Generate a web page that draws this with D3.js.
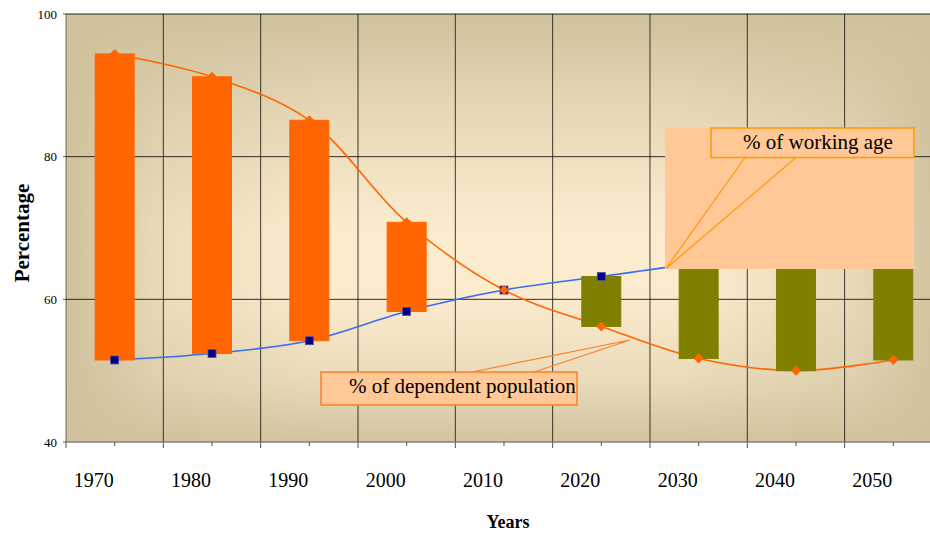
<!DOCTYPE html>
<html>
<head>
<meta charset="utf-8">
<script src="https://cdn.jsdelivr.net/npm/d3@7"></script>
<style>
  body { margin: 0; background: #fff; }
  svg { display: block; font-family: "Liberation Serif", "Times New Roman", serif; }
</style>
</head>
<body>
<div id="chart"></div>
<script>
// Data
const years = ["1970", "1980", "1990", "2000", "2010", "2020", "2030", "2040", "2050"];
const workingAge = [51.5, 52.4, 54.2, 58.3, 61.3, 63.2, 65.0, 66.0, 66.5];
const dependent = [94.4, 91.2, 85.1, 70.8, 61.3, 56.2, 51.7, 50.0, 51.5];
const yTicks = [40, 60, 80, 100];

const width = 930, height = 533;
const margin = { left: 66, top: 14, bottom: 91 };
const band = 97.33;

const svg = d3.select("#chart").append("svg")
    .attr("width", width)
    .attr("height", height);

const x = d3.scaleBand()
    .domain(years)
    .range([margin.left, margin.left + band * years.length])
    .padding(0);
const y = d3.scaleLinear()
    .domain([40, 100])
    .range([height - margin.bottom, margin.top]);

const x0 = x.range()[0], x1 = x.range()[1];
const yTop = y(100), yBot = y(40);
const cx = d => x(d) + x.bandwidth() / 2;

// Background gradients (rectangular "from center" look)
const defs = svg.append("defs");
const tan = "#d0c29d";
const vg = defs.append("linearGradient").attr("id", "vg").attr("x1", 0).attr("y1", 0).attr("x2", 0).attr("y2", 1);
[[0, 1], [0.25, 0.45], [0.5, 0], [0.65, 0], [0.85, 0.4], [1, 0.95]].forEach(([o, a]) =>
    vg.append("stop").attr("offset", o).attr("stop-color", tan).attr("stop-opacity", a));
const hg = defs.append("linearGradient").attr("id", "hg").attr("x1", 0).attr("y1", 0).attr("x2", 1).attr("y2", 0);
[[0, 1], [0.12, 0.35], [0.3, 0], [0.7, 0], [0.9, 0.45], [1, 1]].forEach(([o, a]) =>
    hg.append("stop").attr("offset", o).attr("stop-color", tan).attr("stop-opacity", a));

const plot = svg.append("g");
plot.append("rect")
    .attr("x", x0).attr("y", yTop)
    .attr("width", x1 - x0).attr("height", yBot - yTop)
    .attr("fill", "#fcecce");
plot.append("rect")
    .attr("x", x0).attr("y", yTop)
    .attr("width", x1 - x0).attr("height", yBot - yTop)
    .attr("fill", "url(#hg)");
plot.append("rect")
    .attr("x", x0).attr("y", yTop)
    .attr("width", x1 - x0).attr("height", yBot - yTop)
    .attr("fill", "url(#vg)");

// Horizontal gridlines
plot.append("g")
    .selectAll("line")
    .data(yTicks.filter(t => t > 40))
    .join("line")
    .attr("x1", x0).attr("x2", x1)
    .attr("y1", d => y(d)).attr("y2", d => y(d))
    .attr("stroke", "#000")
    .attr("stroke-opacity", d => d === 100 ? 0.85 : 0.8)
    .attr("stroke-width", 1);

// Vertical gridlines at category boundaries
plot.append("g")
    .selectAll("line")
    .data(years)
    .join("line")
    .attr("x1", d => x(d)).attr("x2", d => x(d))
    .attr("y1", yTop).attr("y2", yBot)
    .attr("stroke", "#000")
    .attr("stroke-opacity", (d, i) => i === 0 ? 0.55 : 0.75)
    .attr("stroke-width", 1);

// Axis line and ticks
svg.append("line")
    .attr("x1", x0).attr("x2", x1)
    .attr("y1", yBot).attr("y2", yBot)
    .attr("stroke", "#808080").attr("stroke-width", 1.5);
svg.append("g")
    .selectAll("line")
    .data(years.concat(["end"]))
    .join("line")
    .attr("x1", d => d === "end" ? x1 : x(d))
    .attr("x2", d => d === "end" ? x1 : x(d))
    .attr("y1", yBot).attr("y2", yBot + 6)
    .attr("stroke", "#555");
svg.append("g")
    .selectAll("line")
    .data(years)
    .join("line")
    .attr("x1", cx).attr("x2", cx)
    .attr("y1", yBot).attr("y2", yBot + 4)
    .attr("stroke", "#555");
svg.append("g")
    .selectAll("line")
    .data(yTicks)
    .join("line")
    .attr("x1", x0 - 3).attr("x2", x0)
    .attr("y1", d => y(d)).attr("y2", d => y(d))
    .attr("stroke", "#555");

// Tick labels
svg.append("g")
    .selectAll("text")
    .data(yTicks)
    .join("text")
    .attr("x", 57)
    .attr("y", d => y(d))
    .attr("dy", "0.35em")
    .attr("text-anchor", "end")
    .style("font-size", "13px")
    .text(d => d);
svg.append("g")
    .selectAll("text")
    .data(years)
    .join("text")
    .attr("x", d => cx(d) - 21)
    .attr("y", 487)
    .attr("text-anchor", "middle")
    .style("font-size", "20px")
    .text(d => d);

// Axis titles
svg.append("text")
    .attr("transform", "translate(29,233) rotate(-90)")
    .attr("text-anchor", "middle")
    .style("font-size", "21px")
    .style("font-weight", "bold")
    .text("Percentage");
svg.append("text")
    .attr("x", 508).attr("y", 528)
    .attr("text-anchor", "middle")
    .style("font-size", "18px")
    .style("font-weight", "bold")
    .text("Years");

// Lines
const rows = years.map((yr, i) => ({ yr, w: workingAge[i], d: dependent[i] }));
const curve = d3.curveCatmullRom.alpha(0.5);
svg.append("path")
    .datum(rows)
    .attr("fill", "none")
    .attr("stroke", "#3a6cf4")
    .attr("stroke-width", 1.6)
    .attr("d", d3.line().x(d => cx(d.yr)).y(d => y(d.w)).curve(curve));
svg.append("path")
    .datum(rows)
    .attr("fill", "none")
    .attr("stroke", "#ff6600")
    .attr("stroke-width", 1.6)
    .attr("d", d3.line().x(d => cx(d.yr)).y(d => y(d.d)).curve(curve));

// Up/down bars
const barW = 39;
svg.append("g")
    .selectAll("rect")
    .data(rows)
    .join("rect")
    .attr("x", d => cx(d.yr) - barW / 2)
    .attr("width", barW)
    .attr("y", d => y(Math.max(d.w, d.d)))
    .attr("height", d => Math.abs(y(d.w) - y(d.d)))
    .attr("fill", d => d.d >= d.w ? "#ff6600" : "#808000")
    .attr("stroke", d => d.d >= d.w ? "#ff6600" : "#808000")
    .attr("stroke-width", 1);

// Markers
svg.append("g")
    .selectAll("rect")
    .data(rows)
    .join("rect")
    .attr("x", d => cx(d.yr) - 4)
    .attr("y", d => y(d.w) - 4)
    .attr("width", 8).attr("height", 8)
    .attr("fill", "#000080")
    .attr("stroke", "#5050b0")
    .attr("stroke-width", 0.8);
svg.append("g")
    .selectAll("path")
    .data(rows)
    .join("path")
    .attr("transform", d => `translate(${cx(d.yr)},${y(d.d)})`)
    .attr("d", "M0,-5L5,0L0,5L-5,0Z")
    .attr("fill", "#ff6600");

// Callout: % of working age
const c1 = svg.append("g");
c1.append("rect")
    .attr("x", 665).attr("y", 128)
    .attr("width", 249).attr("height", 141)
    .attr("fill", "#ffc896");
c1.append("rect")
    .attr("x", 711).attr("y", 128)
    .attr("width", 203).attr("height", 29.5)
    .attr("fill", "#ffc896")
    .attr("stroke", "#ff9900")
    .attr("stroke-width", 1.5);
c1.append("path")
    .attr("d", "M745,157.5L666,268.5L796,157.5")
    .attr("fill", "none")
    .attr("stroke", "#ff9900")
    .attr("stroke-width", 1.2);
c1.append("text")
    .attr("x", 743).attr("y", 149)
    .style("font-size", "21px")
    .text("% of working age");

// Callout: % of dependent population
const c2 = svg.append("g");
c2.append("path")
    .attr("d", "M472,372L630,340L534,372")
    .attr("fill", "none")
    .attr("stroke", "#ff7f2a")
    .attr("stroke-width", 1.2);
c2.append("rect")
    .attr("x", 321).attr("y", 372)
    .attr("width", 256).attr("height", 33)
    .attr("fill", "#ffc896")
    .attr("stroke", "#ff7f2a")
    .attr("stroke-width", 1.5);
c2.append("text")
    .attr("x", 349).attr("y", 393)
    .style("font-size", "21px")
    .text("% of dependent population");
</script>
</body>
</html>
